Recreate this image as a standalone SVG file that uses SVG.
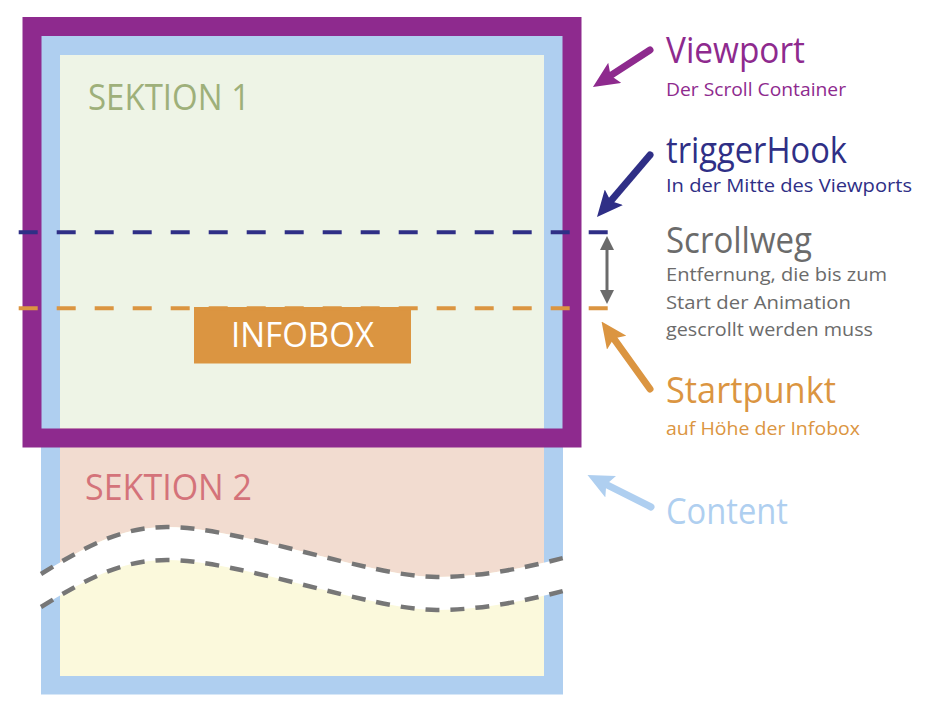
<svg xmlns="http://www.w3.org/2000/svg" width="930" height="724" viewBox="0 0 930 724">
<style>
text{font-family:"Open Sans",Roboto,"Liberation Sans",sans-serif;font-weight:400}
.title{font-size:36px}
.sub{font-size:18px}
.purple{fill:#8e2a8e}
.navy{fill:#2f2f86}
.gray{fill:#6b6b6b}
.orange{fill:#db9541}
.lblue{fill:#afcff0}
.arr{fill:none;stroke-width:7;stroke-linecap:round}
.wave{fill:none;stroke:#777777;stroke-width:4.5;stroke-dasharray:14 11}
.hline{fill:none;stroke-width:4;stroke-dasharray:19 19}
</style>
<defs>
<clipPath id="innerClip"><rect x="60" y="428" width="484" height="248"/></clipPath>
<marker id="mPurple" viewBox="0 0 26 24" refX="12" refY="12" markerWidth="26" markerHeight="24" markerUnits="userSpaceOnUse" orient="auto"><path d="M0,0 L26,12 L0,24 L5,12 z" fill="#8e2a8e"/></marker>
<marker id="mNavy" viewBox="0 0 26 24" refX="12" refY="12" markerWidth="26" markerHeight="24" markerUnits="userSpaceOnUse" orient="auto"><path d="M0,0 L26,12 L0,24 L5,12 z" fill="#2f2f86"/></marker>
<marker id="mOrange" viewBox="0 0 26 24" refX="12" refY="12" markerWidth="26" markerHeight="24" markerUnits="userSpaceOnUse" orient="auto"><path d="M0,0 L26,12 L0,24 L5,12 z" fill="#db9541"/></marker>
<marker id="mBlue" viewBox="0 0 26 24" refX="12" refY="12" markerWidth="26" markerHeight="24" markerUnits="userSpaceOnUse" orient="auto"><path d="M0,0 L26,12 L0,24 L5,12 z" fill="#afcff0"/></marker>
</defs>
<rect width="930" height="724" fill="#ffffff"/>

<g id="content">
<rect x="41" y="36" width="522" height="658.5" fill="#afcff0"/>
</g>

<g id="sektion1">
<rect x="60" y="55" width="484" height="373.5" fill="#eef4e6"/>
<text x="88" y="110" font-size="37" fill="#9eb07a" textLength="162" lengthAdjust="spacingAndGlyphs">SEKTION 1</text>
</g>

<g id="sektion2">
<rect x="60" y="428" width="484" height="248" fill="#f2dcd0"/>
<path clip-path="url(#innerClip)" d="M41,574 C85,547 120,527 167,527 C240,527 370,577 437,577 C480,577 525,568 563,558 L563,676 L41,676 z" fill="#fbf9dc"/>
<text x="85" y="499.5" font-size="36" fill="#d4737a" textLength="167" lengthAdjust="spacingAndGlyphs">SEKTION 2</text>
<path d="M41,574 C85,547 120,527 167,527 C240,527 370,577 437,577 C480,577 525,568 563,558 L563,591 C525,601 480,610 437,610 C370,610 240,560 167,560 C120,560 85,580 41,607 z" fill="#ffffff"/>
<path class="wave" d="M41,574 C85,547 120,527 167,527 C240,527 370,577 437,577 C480,577 525,568 563,558"/>
<path class="wave" d="M41,607 C85,580 120,560 167,560 C240,560 370,610 437,610 C480,610 525,601 563,591"/>
</g>

<g id="viewport">
<rect x="32" y="26.5" width="540" height="411.5" fill="none" stroke="#8e2a8e" stroke-width="19"/>
</g>

<g id="infobox">
<rect x="194" y="307" width="217" height="56.5" fill="#db9541"/>
<text x="302.5" y="346.5" font-size="34" fill="#ffffff" text-anchor="middle" textLength="143" lengthAdjust="spacingAndGlyphs">INFOBOX</text>
</g>

<g id="lines">
<line class="hline" x1="18.7" y1="232.3" x2="608.7" y2="232.3" stroke="#2f2f86"/>
<line class="hline" x1="18.7" y1="308.3" x2="608.7" y2="308.3" stroke="#db9541"/>
</g>

<g id="connectors">
<line class="arr" x1="650" y1="50" x2="604.7" y2="79.4" stroke="#8e2a8e" marker-end="url(#mPurple)"/>
<line class="arr" x1="650" y1="155" x2="606.1" y2="206.4" stroke="#2f2f86" marker-end="url(#mNavy)"/>
<line class="arr" x1="650" y1="389" x2="609.7" y2="332.9" stroke="#db9541" marker-end="url(#mOrange)"/>
<line class="arr" x1="651" y1="507" x2="600" y2="481.3" stroke="#afcff0" marker-end="url(#mBlue)"/>
<g id="scrollweg-arrow" fill="#6b6b6b">
<line x1="607" y1="248" x2="607" y2="292" stroke="#6b6b6b" stroke-width="3"/>
<polygon points="607,236 614,250 600,250"/>
<polygon points="607,304 614,290 600,290"/>
</g>
</g>

<g id="label-viewport">
<text class="title purple" x="666" y="63" textLength="139" lengthAdjust="spacingAndGlyphs">Viewport</text>
<text class="sub purple" x="666" y="96" textLength="180" lengthAdjust="spacingAndGlyphs">Der Scroll Container</text>
</g>
<g id="label-triggerhook">
<text class="title navy" x="666" y="163" textLength="181" lengthAdjust="spacingAndGlyphs">triggerHook</text>
<text class="sub navy" x="666" y="192" textLength="246" lengthAdjust="spacingAndGlyphs">In der Mitte des Viewports</text>
</g>
<g id="label-scrollweg">
<text class="title gray" x="666" y="253" textLength="146" lengthAdjust="spacingAndGlyphs">Scrollweg</text>
<text class="sub gray" x="666" y="281" textLength="221" lengthAdjust="spacingAndGlyphs">Entfernung, die bis zum</text>
<text class="sub gray" x="666" y="309" textLength="185" lengthAdjust="spacingAndGlyphs">Start der Animation</text>
<text class="sub gray" x="666" y="336" textLength="207" lengthAdjust="spacingAndGlyphs">gescrollt werden muss</text>
</g>
<g id="label-startpunkt">
<text class="title orange" x="666" y="403" textLength="170" lengthAdjust="spacingAndGlyphs">Startpunkt</text>
<text class="sub orange" x="666" y="435" textLength="194" lengthAdjust="spacingAndGlyphs">auf Höhe der Infobox</text>
</g>
<g id="label-content">
<text class="title lblue" x="666" y="524" textLength="122" lengthAdjust="spacingAndGlyphs">Content</text>
</g>
</svg>
